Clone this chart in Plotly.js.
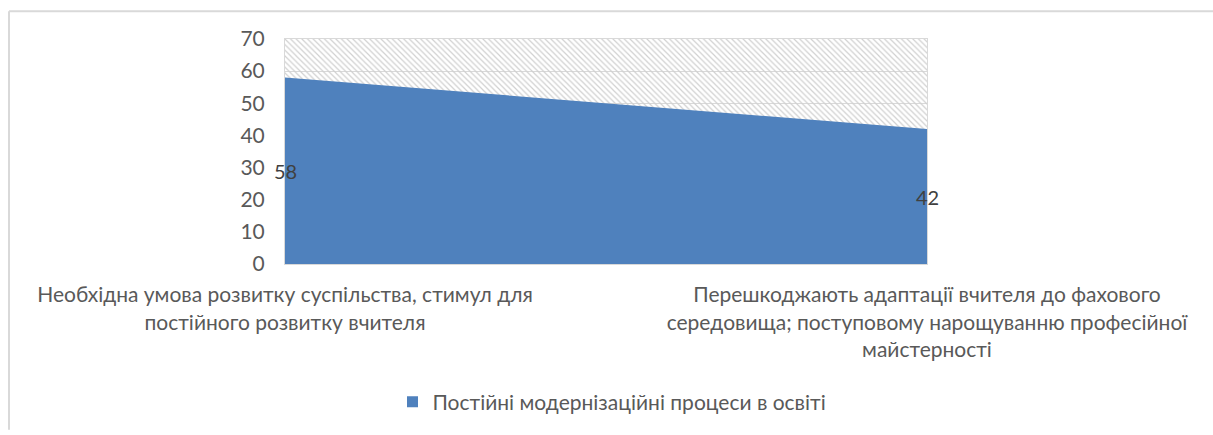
<!DOCTYPE html>
<html>
<head>
<meta charset="utf-8">
<script src="https://cdn.plot.ly/plotly-3.0.1.min.js"></script>
<style>
  html, body { margin: 0; padding: 0; background: #ffffff; }
  #chart { width: 1213px; height: 435px; }
</style>
</head>
<body>
<div id="chart"></div>
<script>
// ---- data ----
const categories = [
  "Необхідна умова розвитку суспільства, стимул для<br>постійного розвитку вчителя",
  "Перешкоджають адаптації вчителя до фахового<br>середовища; поступовому нарощуванню професійної<br>майстерності"
];
const seriesName = "Постійні модернізаційні процеси в освіті";
const values = [58, 42];
const yTicks = [0, 10, 20, 30, 40, 50, 60, 70];
const yMax = 70;

// ---- styles ----
const FONT = "Lato, 'Noto Sans', sans-serif";
const TXT = "#595959";
const GRID = "#d9d9d9";
const BLUE = "#4f81bd";

const background = {
  type: "scatter",
  x: categories,
  y: categories.map(() => yMax),
  mode: "none",
  fill: "tozeroy",
  fillcolor: "rgba(0,0,0,0)",
  fillpattern: { shape: "\\", fgcolor: "#d0d0d0", bgcolor: "rgba(0,0,0,0)", size: 4, solidity: 0.3 },
  showlegend: false,
  hoverinfo: "skip"
};

const area = {
  type: "scatter",
  name: seriesName,
  x: categories,
  y: values,
  mode: "none",
  fill: "tozeroy",
  fillcolor: BLUE,
  showlegend: false,
  hoverinfo: "skip"
};

// legend entry (square key, as in the original)
const legendKey = {
  type: "scatter",
  name: seriesName,
  x: [null],
  y: [null],
  mode: "markers",
  marker: { symbol: "square", size: 11, color: BLUE },
  showlegend: true,
  hoverinfo: "skip"
};

const annotations = values.map((v, i) => ({
  x: categories[i],
  y: v / 2,
  xref: "x",
  yref: "y",
  text: String(v),
  showarrow: false,
  font: { family: FONT, size: 20, color: "#404040" }
}));

// outer chart frame (top and left edges)
const L = 285, R = 927, T = 39, B = 267;
const pw = R - L, ph = B - T;
const px = (p) => (p - L) / pw;
const py = (p) => (B - p) / ph;
const shapes = [
  { type: "line", xref: "paper", yref: "paper", x0: px(9), x1: px(1213), y0: py(11), y1: py(11), line: { color: "#d9d9d9", width: 2 } },
  { type: "line", xref: "paper", yref: "paper", x0: px(9), x1: px(9), y0: py(11), y1: py(435), line: { color: "#d9d9d9", width: 2 } }
];

const layout = {
  width: 1213,
  height: 435,
  margin: { l: L, r: 1213 - R, t: T, b: 435 - B, pad: 0 },
  paper_bgcolor: "#ffffff",
  plot_bgcolor: "#ffffff",
  font: { family: FONT, size: 21, color: TXT },
  showlegend: true,
  legend: {
    orientation: "h",
    x: px(612), xanchor: "center",
    y: py(407), yanchor: "middle",
    font: { family: FONT, size: 21, color: TXT },
    itemwidth: 30
  },
  xaxis: {
    type: "category",
    range: [0, 1],
    showgrid: false,
    showline: true,
    mirror: true,
    linecolor: GRID,
    linewidth: 1,
    ticks: "",
    ticklabelstandoff: 12,
    tickfont: { family: FONT, size: 21, color: TXT },
    fixedrange: true
  },
  yaxis: {
    range: [0, yMax],
    tickvals: yTicks,
    ticktext: yTicks.map(String),
    showgrid: true,
    gridcolor: GRID,
    gridwidth: 1,
    showline: true,
    mirror: true,
    linecolor: GRID,
    linewidth: 1,
    zeroline: false,
    ticks: "",
    ticklabelstandoff: 15,
    tickfont: { family: FONT, size: 21, color: TXT },
    fixedrange: true
  },
  annotations: annotations,
  shapes: shapes
};

Plotly.newPlot("chart", [background, area, legendKey], layout, { displayModeBar: false, staticPlot: true });
</script>
</body>
</html>
